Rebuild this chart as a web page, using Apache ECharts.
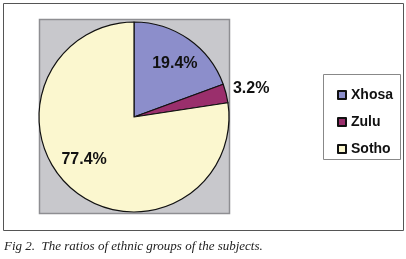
<!DOCTYPE html>
<html lang="en">
<head>
    <meta charset="UTF-8">
    <title>Ethnic groups</title>
    <style>
        html, body { margin: 0; padding: 0; background: #fff; }
    </style>
</head>
<body>
    <div id="box" style="width: 406px; height: 259px;"></div>
</body>
<script src="https://cdn.jsdelivr.net/npm/echarts@6/dist/echarts.min.js"></script>
<script>
    // data
    var groups = ["Xhosa", "Zulu", "Sotho"];
    var ratios = [19.4, 3.2, 77.4];
    var colors = ["#8c8ecb", "#9a2f6c", "#fbf7cf"];

    // nudges for the value labels (dx, dy)
    var labelShift = [[12, -12], [0, -4], [-17, 4]];

    var pieData = [];
    for (var i = 0; i < groups.length; i++) {
        pieData.push({
            name: groups[i],
            value: ratios[i],
            itemStyle: { color: colors[i] },
            label: { position: i == 1 ? "outside" : "inside" }
        });
    }

    var box = echarts.init(document.getElementById("box"));
    var option = {
        animation: false,
        graphic: [
            // outer frame
            { type: "rect", shape: { x: 3.5, y: 3.5, width: 400, height: 227 },
              style: { fill: "#fff", stroke: "#555", lineWidth: 1 } },
            // grey plot area
            { type: "rect", shape: { x: 39.5, y: 19.5, width: 190, height: 194 },
              style: { fill: "#c8c8cc", stroke: "#8e8e92", lineWidth: 1.5 } },
            // legend frame
            { type: "rect", shape: { x: 323.5, y: 74.5, width: 77, height: 85 },
              style: { fill: "#fff", stroke: "#888", lineWidth: 1 } },
            // caption
            { type: "text", left: 4, top: 240,
              style: { text: "Fig 2.  The ratios of ethnic groups of the subjects.",
                       fill: "#222", font: "italic 13px 'Liberation Serif', serif" } }
        ],
        legend: {
            orient: "vertical",
            left: 332,
            top: 83,
            icon: "rect",
            itemWidth: 8,
            itemHeight: 8,
            itemGap: 13,
            textStyle: {
                color: "#111",
                fontFamily: "Liberation Sans, Arial, sans-serif",
                fontWeight: "bold",
                fontSize: 14
            },
            data: groups
        },
        series: [{
            type: "pie",
            center: [134, 117],
            radius: 95,
            startAngle: 90,
            clockwise: true,
            avoidLabelOverlap: false,
            itemStyle: { borderColor: "#111", borderWidth: 1.2 },
            label: {
                show: true,
                formatter: "{c}%",
                color: "#111",
                fontFamily: "Liberation Sans, Arial, sans-serif",
                fontWeight: "bold",
                fontSize: 16
            },
            labelLine: { show: false, length: 2, length2: 0 },
            labelLayout: function (params) {
                var s = labelShift[params.dataIndex];
                return { dx: s[0], dy: s[1] };
            },
            emphasis: { disabled: true },
            data: pieData
        }]
    };
    box.setOption(option);
</script>
</html>
